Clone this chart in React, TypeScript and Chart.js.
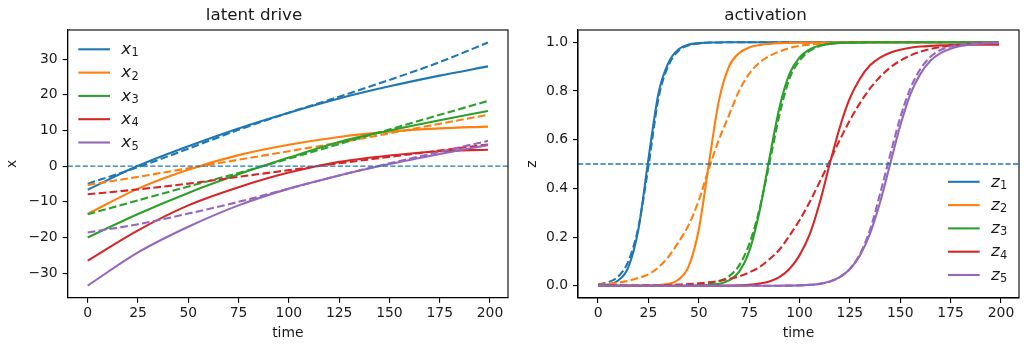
import React, { useEffect, useRef } from 'react';
import { Chart, registerables } from 'chart.js';

Chart.register(...registerables);

// ---------------- data ----------------
const TIME_COARSE = [0, 25, 50, 75, 100, 125, 150, 175, 199];
const TIME_FINE = [0, 5, 10, 15, 20, 25, 30, 35, 40, 45, 50, 55, 60, 65, 70, 75, 80, 85, 90, 95, 100,
  105, 110, 115, 120, 125, 130, 135, 140, 145, 150, 155, 160, 165, 170, 175, 180, 185, 190, 195, 199];

const X_LABELS = ['x₁', 'x₂', 'x₃', 'x₄', 'x₅'];
const Z_LABELS = ['z₁', 'z₂', 'z₃', 'z₄', 'z₅'];
const COLORS = ['#1f77b4', '#ff7f0e', '#2ca02c', '#d62728', '#9467bd'];

// tick values
const TIME_TICKS = [0, 25, 50, 75, 100, 125, 150, 175, 200];
const LATENT_TICKS = [-30, -20, -10, 0, 10, 20, 30];
const ACT_TICKS = [0, 0.2, 0.4, 0.6, 0.8, 1.0];

// latent drive (solid = x, dashed = approximation)
const X1 = [-6.6, 0.1, 5.6, 10.6, 15.0, 19.0, 22.4, 25.4, 28.0];
const X1_DASH = [-4.9, -0.3, 4.9, 10.2, 15.0, 19.5, 24.2, 29.2, 34.7];
const X2 = [-13.4, -6.3, -1.0, 3.1, 6.0, 8.2, 9.7, 10.6, 11.1];
const X2_DASH = [-5.3, -3.0, -0.6, 1.8, 4.2, 6.6, 9.2, 11.9, 14.4];
const X3 = [-20.0, -13.4, -7.5, -2.3, 2.4, 6.8, 10.0, 12.9, 15.5];
const X3_DASH = [-13.5, -9.6, -5.7, -1.9, 2.1, 6.2, 10.3, 14.4, 18.3];
const X4 = [-26.5, -18.0, -11.0, -5.9, -1.8, 1.2, 3.0, 4.2, 4.6];
const X4_DASH = [-7.9, -6.5, -4.9, -3.0, -1.1, 0.8, 2.6, 4.4, 6.1];
const X5 = [-33.5, -24.2, -17.0, -11.0, -6.3, -2.6, 0.6, 3.4, 5.9];
const X5_DASH = [-18.6, -16.3, -13.3, -10.0, -6.3, -2.6, 0.8, 4.0, 7.1];

// activation
const Z1 = [0.001, 0.005, 0.022, 0.076, 0.23, 0.52, 0.79, 0.917, 0.971, 0.99, 0.996, 0.999, 0.999,
  1, 1, 1, 1, 1, 1, 1, 1, 1, 1, 1, 1, 1, 1, 1, 1, 1, 1, 1, 1, 1, 1, 1, 1, 1, 1, 1, 1];
const Z1_DASH = [0.006, 0.015, 0.038, 0.1, 0.24, 0.49, 0.77, 0.905, 0.965, 0.987, 0.995, 0.998, 0.999,
  1, 1, 1, 1, 1, 1, 1, 1, 1, 1, 1, 1, 1, 1, 1, 1, 1, 1, 1, 1, 1, 1, 1, 1, 1, 1, 1, 1];
const Z2 = [0, 0, 0.0001, 0.0002, 0.0005, 0.001, 0.003, 0.008, 0.026, 0.08, 0.23, 0.5, 0.76, 0.9, 0.955,
  0.978, 0.988, 0.993, 0.996, 0.997, 0.998, 0.998, 0.999, 0.999, 0.999, 0.999,
  1, 1, 1, 1, 1, 1, 1, 1, 1, 1, 1, 1, 1, 1, 1];
const Z2_DASH = [0.005, 0.008, 0.013, 0.02, 0.032, 0.047, 0.076, 0.12, 0.18, 0.25, 0.35, 0.48, 0.6, 0.7,
  0.8, 0.87, 0.915, 0.943, 0.962, 0.976, 0.985, 0.99, 0.994, 0.996, 0.998, 0.998, 0.999, 0.999, 0.999, 0.999,
  1, 1, 1, 1, 1, 1, 1, 1, 1, 1, 1];
const Z3 = [0, 0, 0, 0, 0, 0, 0, 0, 0.0002, 0.0005, 0.001, 0.003, 0.008, 0.022, 0.057, 0.14, 0.3, 0.52,
  0.73, 0.87, 0.937, 0.97, 0.986, 0.993, 0.997, 0.998, 0.999,
  1, 1, 1, 1, 1, 1, 1, 1, 1, 1, 1, 1, 1, 1];
const Z3_DASH = [0, 0, 0, 0.0001, 0.0001, 0.0001, 0.0002, 0.0004, 0.0008, 0.0018, 0.004, 0.0086, 0.019,
  0.039, 0.083, 0.17, 0.31, 0.5, 0.7, 0.85, 0.924, 0.964, 0.984, 0.993, 0.997, 0.998, 0.999,
  1, 1, 1, 1, 1, 1, 1, 1, 1, 1, 1, 1, 1, 1];
const Z4 = [0, 0, 0, 0, 0, 0, 0, 0, 0, 0, 0, 0.0002, 0.0003, 0.0007, 0.0018, 0.004, 0.009, 0.018, 0.036,
  0.069, 0.125, 0.21, 0.34, 0.5, 0.65, 0.77, 0.85, 0.905, 0.937, 0.957, 0.969, 0.977, 0.982, 0.985, 0.987,
  0.988, 0.989, 0.9895, 0.99, 0.99, 0.99];
const Z4_DASH = [0.0004, 0.0005, 0.0007, 0.0009, 0.0012, 0.0017, 0.0025, 0.0033, 0.005, 0.007, 0.01, 0.014,
  0.02, 0.028, 0.039, 0.055, 0.076, 0.109, 0.148, 0.206, 0.269, 0.343, 0.426, 0.512, 0.599, 0.679, 0.75,
  0.81, 0.858, 0.896, 0.924, 0.945, 0.961, 0.972, 0.98, 0.986, 0.99, 0.993, 0.995, 0.996, 0.997];
const Z5 = [0, 0, 0, 0, 0, 0, 0, 0, 0, 0, 0, 0, 0, 0, 0, 0, 0, 0, 0.0005, 0.0009, 0.0018, 0.004, 0.008,
  0.018, 0.036, 0.069, 0.125, 0.214, 0.343, 0.5, 0.657, 0.786, 0.87, 0.924, 0.955, 0.973, 0.984, 0.99,
  0.994, 0.996, 0.997];
const Z5_DASH = [0, 0, 0, 0, 0, 0, 0, 0, 0, 0, 0, 0, 0, 0, 0, 0, 0, 0, 0.0005, 0.0009, 0.0018, 0.004,
  0.008, 0.017, 0.036, 0.069, 0.13, 0.23, 0.378, 0.537, 0.69, 0.81, 0.89, 0.94, 0.968, 0.982, 0.99, 0.995,
  0.997, 0.999, 0.999];

const TIME_RANGE = [-9.95, 208.95];
const LATENT_RANGE = [-36.9, 38.2];
const ACT_RANGE = [-0.05, 1.05];
const LATENT_THRESHOLD = 0;
const ACT_THRESHOLD = 0.5;

// ---------------- styling ----------------
const FONT = 'DejaVu Sans';
const TEXT = '#1a1a1a';
const SPINE = '#000';

function makeDatasets(time: number[], solids: number[][], dashes: number[][], labels: string[]) {
  const ds: any[] = [];
  solids.forEach((vals, i) => {
    ds.push({
      label: labels[i],
      data: vals.map((v, k) => ({ x: time[k], y: v })),
      borderColor: COLORS[i],
      backgroundColor: COLORS[i],
      borderWidth: 2.1,
      pointRadius: 0,
      pointHoverRadius: 0,
      fill: false,
      cubicInterpolationMode: 'monotone',
      borderJoinStyle: 'round',
      order: -(2 * i),
      inLegend: true,
    });
    ds.push({
      label: labels[i] + ' approx',
      data: dashes[i].map((v, k) => ({ x: time[k], y: v })),
      borderColor: COLORS[i],
      backgroundColor: COLORS[i],
      borderWidth: 2.1,
      borderDash: [7.7, 3.3],
      pointRadius: 0,
      pointHoverRadius: 0,
      fill: false,
      cubicInterpolationMode: 'monotone',
      order: -(2 * i + 1),
      inLegend: false,
    });
  });
  return ds;
}

const hlinePlugin = {
  id: 'hline',
  afterDatasetsDraw(chart: any, _a: any, opts: any) {
    const { ctx, chartArea, scales } = chart;
    const y = scales.y.getPixelForValue(opts.value);
    ctx.save();
    ctx.strokeStyle = '#1f77b4';
    ctx.lineWidth = 1.4;
    ctx.setLineDash([5.2, 2.3]);
    ctx.beginPath();
    ctx.moveTo(chartArea.left, y);
    ctx.lineTo(chartArea.right, y);
    ctx.stroke();
    ctx.restore();
  },
};

const framePlugin = {
  id: 'frame',
  afterDatasetsDraw(chart: any) {
    const { ctx, chartArea } = chart;
    ctx.save();
    ctx.strokeStyle = SPINE;
    ctx.lineWidth = 1.1;
    ctx.setLineDash([]);
    ctx.strokeRect(chartArea.left, chartArea.top, chartArea.right - chartArea.left, chartArea.bottom - chartArea.top);
    ctx.restore();
  },
};

const legendPlugin = {
  id: 'mplLegend',
  afterDraw(chart: any, _a: any, opts: any) {
    const { ctx, chartArea } = chart;
    const items = chart.data.datasets.filter((d: any) => d.inLegend);
    const rowGap = 23.3;
    const handleLen = 31.7;
    const textPad = 11.3;
    ctx.save();
    items.forEach((d: any, i: number) => {
      let rowY: number;
      let x0: number;
      if (opts.corner === 'ul') {
        rowY = chartArea.top + 19.3 + i * rowGap;
        x0 = chartArea.left + 10.6;
      } else {
        rowY = chartArea.bottom - 23 - (items.length - 1 - i) * rowGap;
        x0 = chartArea.right - 28 - textPad - handleLen;
      }
      ctx.strokeStyle = d.borderColor;
      ctx.lineWidth = 2.1;
      ctx.setLineDash([]);
      ctx.lineCap = 'butt';
      ctx.beginPath();
      ctx.moveTo(x0, rowY);
      ctx.lineTo(x0 + handleLen, rowY);
      ctx.stroke();

      const label: string = d.label;
      const base = label.charAt(0);
      const sub = label
        .slice(1)
        .split('')
        .map((c) => {
          const code = c.charCodeAt(0);
          return code >= 0x2080 && code <= 0x2089 ? String.fromCharCode(code - 0x2080 + 48) : c;
        })
        .join('');
      const tx = x0 + handleLen + textPad;
      ctx.fillStyle = TEXT;
      ctx.textAlign = 'left';
      ctx.textBaseline = 'alphabetic';
      ctx.font = `italic 16.7px "${FONT}"`;
      ctx.fillText(base, tx, rowY + 4.7);
      const w = ctx.measureText(base).width;
      ctx.font = `11.4px "${FONT}"`;
      ctx.fillText(sub, tx + w + 0.2, rowY + 7.0);
    });
    ctx.restore();
  },
};

function buildConfig(o: any) {
  const tickFont = { family: FONT, size: 13.9 };
  return {
    type: 'line',
    data: { datasets: makeDatasets(o.time, o.solids, o.dashes, o.labels) },
    options: {
      animation: false,
      responsive: false,
      devicePixelRatio: 1,
      events: [],
      layout: { autoPadding: false, padding: { left: 0, right: o.padRight, top: 0, bottom: 0 } },
      plugins: {
        legend: { display: false },
        tooltip: { enabled: false },
        title: {
          display: true,
          text: o.title,
          color: TEXT,
          font: { family: FONT, size: 16.7, weight: 'normal' },
          padding: { top: 6, bottom: 3.96 },
        },
        mplLegend: { corner: o.legendCorner },
        hline: { value: o.threshold },
      },
      scales: {
        x: {
          type: 'linear',
          min: TIME_RANGE[0],
          max: TIME_RANGE[1],
          bounds: 'data',
          afterBuildTicks: (s: any) => { s.ticks = TIME_TICKS.map((v) => ({ value: v })); },
          afterFit: (s: any) => { s.height = o.xAxisHeight; },
          grid: { drawOnChartArea: false, drawTicks: true, tickLength: 5, color: SPINE, lineWidth: 1.1 },
          border: { display: true, color: SPINE, width: 1.1 },
          ticks: {
            autoSkip: false,
            maxRotation: 0,
            padding: 2,
            color: TEXT,
            font: tickFont,
            callback: (v: number) => String(Math.round(v)),
          },
          title: { display: true, text: 'time', color: TEXT, font: tickFont, padding: { top: 0, bottom: o.xTitlePad } },
        },
        y: {
          type: 'linear',
          min: o.yRange[0],
          max: o.yRange[1],
          bounds: 'data',
          afterBuildTicks: (s: any) => { s.ticks = o.yTicks.map((v: number) => ({ value: v })); },
          afterFit: (s: any) => { s.width = o.yAxisWidth; },
          grid: { drawOnChartArea: false, drawTicks: true, tickLength: 5, color: SPINE, lineWidth: 1.1 },
          border: { display: true, color: SPINE, width: 1.1 },
          ticks: {
            autoSkip: false,
            padding: 5,
            color: TEXT,
            font: tickFont,
            callback: o.yFormat,
          },
          title: { display: true, text: o.yTitle, color: TEXT, font: tickFont, padding: { top: o.yTitlePad, bottom: 0 } },
        },
      },
    },
    plugins: [hlinePlugin, framePlugin, legendPlugin],
  };
}

export default function App() {
  const leftRef = useRef<HTMLCanvasElement | null>(null);
  const rightRef = useRef<HTMLCanvasElement | null>(null);

  useEffect(() => {
    const left = new Chart(leftRef.current as any, buildConfig({
      time: TIME_COARSE,
      solids: [X1, X2, X3, X4, X5],
      dashes: [X1_DASH, X2_DASH, X3_DASH, X4_DASH, X5_DASH],
      labels: X_LABELS,
      title: 'latent drive',
      yTitle: 'x',
      yRange: LATENT_RANGE,
      yTicks: LATENT_TICKS,
      yFormat: (v: number) => (v < 0 ? '\u2212' + Math.abs(Math.round(v)) : String(Math.round(v))),
      threshold: LATENT_THRESHOLD,
      legendCorner: 'ul',
      padRight: 4,
      yAxisWidth: 67.7,
      xAxisHeight: 51.3,
      yTitlePad: 4.3,
      xTitlePad: 7.6,
    }) as any);
    const right = new Chart(rightRef.current as any, buildConfig({
      time: TIME_FINE,
      solids: [Z1, Z2, Z3, Z4, Z5],
      dashes: [Z1_DASH, Z2_DASH, Z3_DASH, Z4_DASH, Z5_DASH],
      labels: Z_LABELS,
      title: 'activation',
      yTitle: 'z',
      yRange: ACT_RANGE,
      yTicks: ACT_TICKS,
      yFormat: (v: number) => v.toFixed(1),
      threshold: ACT_THRESHOLD,
      legendCorner: 'lr',
      padRight: 5,
      yAxisWidth: 66,
      xAxisHeight: 51,
      yTitlePad: 12.4,
      xTitlePad: 7.7,
    }) as any);
    return () => {
      left.destroy();
      right.destroy();
    };
  }, []);

  return (
    <div style={{ position: 'fixed', left: 0, top: 0, width: 1024, height: 349, background: '#fff', overflow: 'hidden' }}>
      <canvas ref={leftRef} width={512} height={349} style={{ position: 'absolute', left: 0, top: 0 }} />
      <canvas ref={rightRef} width={512} height={349} style={{ position: 'absolute', left: 512, top: 0 }} />
    </div>
  );
}
